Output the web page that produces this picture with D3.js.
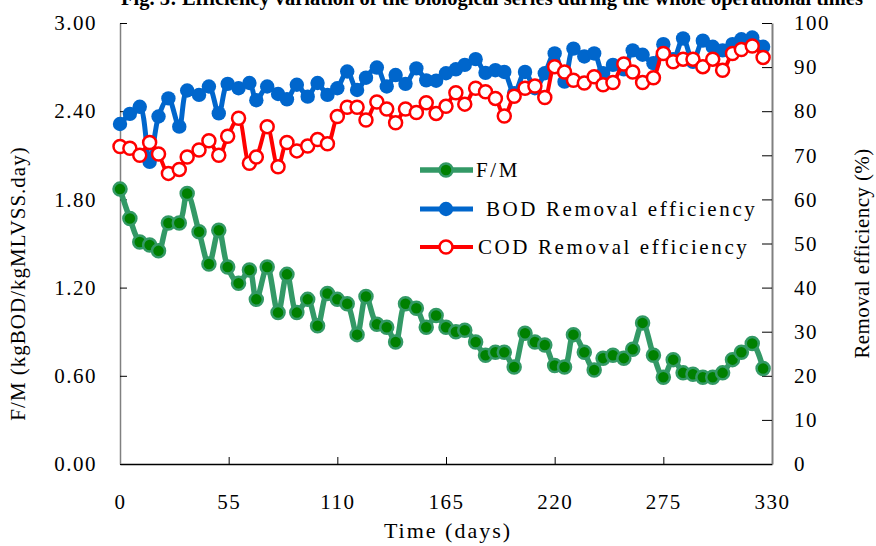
<!DOCTYPE html>
<html>
<head>
<meta charset="utf-8">
<script src="https://cdn.jsdelivr.net/npm/d3@7"></script>
<style>
  body { margin: 0; background: #fff; }
  svg { display: block; font-family: "Liberation Serif", "Times New Roman", serif; }
  .axis text { font-family: "Liberation Serif", "Times New Roman", serif; font-size: 21px; fill: #000; letter-spacing: 1.5px; }
  .axis .tick line { stroke: #000; }
  .legend text { font-size: 21px; letter-spacing: 2.6px; }
  .title-text { font-size: 21px; fill: #000; }
</style>
</head>
<body>
<div id="chart"></div>
<script>
  "use strict";

  // sample days
  const days = [0, 5, 10, 15, 19.5, 24.5, 30, 34, 40, 45, 50, 54.5, 60, 65.5, 69, 74.5, 80, 84.5, 89.5, 95,
    100, 105, 110, 115, 120, 124.5, 130, 135, 139.5, 144.5, 150, 155, 160, 165, 170, 174.5, 180, 185, 190, 194.5,
    199.5, 205, 210, 215, 220, 225, 229.5, 235, 240, 244.5, 249.5, 255, 259.5, 264.5, 270, 275, 280, 285, 290, 295,
    300, 305, 310, 314.5, 320, 325.5];

  // F/M (kgBOD/kgMLVSS.day)
  const fm = [1.87, 1.67, 1.51, 1.49, 1.45, 1.64, 1.64, 1.84, 1.58, 1.36, 1.59, 1.34, 1.23, 1.32, 1.12, 1.34, 1.03, 1.29, 1.03, 1.12,
    0.94, 1.16, 1.12, 1.09, 0.88, 1.14, 0.95, 0.93, 0.83, 1.09, 1.06, 0.93, 1.01, 0.93, 0.90, 0.91, 0.83, 0.74, 0.76, 0.76,
    0.66, 0.89, 0.83, 0.81, 0.67, 0.66, 0.88, 0.76, 0.64, 0.72, 0.74, 0.72, 0.78, 0.96, 0.74, 0.59, 0.71, 0.62, 0.61, 0.59,
    0.59, 0.62, 0.71, 0.76, 0.82, 0.65];

  // BOD removal efficiency (%)
  const bod = [77.1, 79.4, 81.0, 68.5, 78.8, 82.9, 76.5, 84.7, 83.7, 85.6, 79.5, 86.2, 85.2, 86.4, 82.5, 85.6, 83.9, 82.7, 86.0, 83.3,
    86.4, 83.7, 85.2, 89.0, 84.8, 87.6, 89.9, 85.6, 88.2, 86.2, 89.7, 87.0, 86.9, 88.6, 89.5, 90.5, 91.8, 88.7, 89.3, 88.9,
    84.1, 88.9, 85.2, 88.6, 93.1, 86.7, 94.2, 92.4, 93.1, 88.6, 90.5, 89.5, 93.8, 92.8, 90.9, 95.2, 91.8, 96.5, 91.2, 96.0,
    94.6, 93.8, 95.2, 96.3, 96.7, 94.6];

  // COD removal efficiency (%)
  const cod = [72.0, 71.6, 70.0, 72.9, 70.3, 65.9, 66.8, 69.6, 71.2, 73.3, 70.0, 74.3, 78.4, 68.2, 69.6, 76.5, 67.4, 72.9, 71.0, 72.1,
    73.6, 72.6, 78.8, 80.9, 80.9, 78.0, 82.1, 80.5, 77.4, 80.5, 79.7, 81.9, 79.5, 81.1, 84.2, 81.6, 85.2, 84.4, 82.9, 78.9,
    83.4, 85.2, 85.7, 83.1, 90.1, 88.9, 87.0, 86.4, 87.8, 86.0, 86.5, 90.7, 88.9, 86.5, 87.6, 93.1, 91.2, 91.8, 91.8, 90.1,
    91.8, 89.3, 93.1, 94.0, 94.8, 92.2];

  const xTicks = [0, 55, 110, 165, 220, 275, 330];
  const leftTicks = [0, 0.6, 1.2, 1.8, 2.4, 3.0];
  const rightTicks = [0, 10, 20, 30, 40, 50, 60, 70, 80, 90, 100];
  const legendLabels = ["F/M", " BOD Removal efficiency", "COD Removal efficiency"];

  const width = 876, height = 546;
  const margin = { left: 120, right: 104, top: 23, bottom: 82 };
  const innerWidth = width - margin.left - margin.right;
  const innerHeight = height - margin.top - margin.bottom;

  const x = d3.scaleLinear().domain([0, 330]).range([0, innerWidth]);
  const yLeft = d3.scaleLinear().domain([0, 3]).range([innerHeight, 0]);
  const yRight = d3.scaleLinear().domain([0, 100]).range([innerHeight, 0]);

  const svg = d3.select("#chart").append("svg").attr("width", width).attr("height", height);

  // title, cut off by the top edge like in the source
  svg.append("text").classed("title-text", true)
    .attr("x", 492).attr("y", 5)
    .attr("text-anchor", "middle")
    .style("font-weight", "bold").style("font-size", "20.5px")
    .text("Fig. 5: Efficiency variation of the biological series during the whole operational times");

  const g = svg.append("g").attr("transform", `translate(${margin.left},${margin.top})`);

  // Axes, ticks pointing inward
  g.append("g").classed("axis", true)
    .attr("transform", `translate(0, ${innerHeight})`)
    .call(d3.axisBottom(x).tickValues(xTicks).tickSizeInner(-7).tickSizeOuter(0).tickPadding(30))
    .call((a) => a.select(".domain").attr("stroke", "#000").attr("stroke-width", 1.5))
    .call((a) => a.selectAll(".tick").filter((d) => d == 0 || d == 330).select("line").remove());

  g.append("g").classed("axis", true)
    .call(d3.axisLeft(yLeft).tickValues(leftTicks).tickFormat(d3.format(".2f"))
      .tickSizeInner(-7).tickSizeOuter(0).tickPadding(23))
    .call((a) => a.select(".domain").attr("stroke", "#808080").attr("stroke-width", 1.5));

  g.append("g").classed("axis", true)
    .attr("transform", `translate(${innerWidth}, 0)`)
    .call(d3.axisRight(yRight).tickValues(rightTicks).tickSizeInner(-10).tickSizeOuter(0).tickPadding(22))
    .call((a) => a.select(".domain").attr("stroke", "#808080").attr("stroke-width", 2));

  // axis titles
  g.append("text").classed("title-text", true)
    .attr("x", innerWidth / 2 + 2).attr("y", innerHeight + 74)
    .attr("text-anchor", "middle")
    .style("font-size", "22px").style("letter-spacing", "2px")
    .text("Time (days)");
  svg.append("text").classed("title-text", true)
    .attr("transform", `translate(25, ${margin.top + innerHeight / 2 + 40}) rotate(-90)`)
    .attr("text-anchor", "middle").style("letter-spacing", "1px")
    .text("F/M (kgBOD/kgMLVSS.day)");
  svg.append("text").classed("title-text", true)
    .attr("transform", `translate(869, ${margin.top + innerHeight / 2 + 10}) rotate(-90)`)
    .attr("text-anchor", "middle").style("letter-spacing", "0.4px")
    .text("Removal efficiency (%)");

  const series = [
    { name: "fm", values: fm, y: yLeft, line: "#339966", lw: 5.5, r: 6.5, fill: "#008000", stroke: "#339966", sw: 2.5 },
    { name: "bod", values: bod, y: yRight, line: "#0066cc", lw: 5, r: 7.2, fill: "#0066cc", stroke: "#0066cc", sw: 0 },
    { name: "cod", values: cod, y: yRight, line: "#ff0000", lw: 4, r: 6.5, fill: "#fff", stroke: "#ff0000", sw: 2.5 },
  ];

  series.forEach((s) => {
    let pts = days.map((d, i) => [x(d), s.y(s.values[i])]);
    let line = d3.line().curve(d3.curveCatmullRom.alpha(0.5));
    let sg = g.append("g").classed(s.name, true);
    sg.append("path").attr("d", line(pts))
      .attr("fill", "none").attr("stroke", s.line).attr("stroke-width", s.lw)
      .attr("stroke-linejoin", "round");
    sg.selectAll("circle").data(pts).enter().append("circle")
      .attr("cx", (d) => d[0]).attr("cy", (d) => d[1]).attr("r", s.r)
      .attr("fill", s.fill).attr("stroke", s.stroke).attr("stroke-width", s.sw);
  });

  // legend
  const legend = svg.append("g").classed("legend", true);
  const legendY = [170, 209, 247];
  const legendTextX = [476, 486, 478];
  series.forEach((s, i) => {
    let row = legend.append("g").attr("transform", `translate(0, ${legendY[i]})`);
    row.append("line").attr("x1", 420).attr("x2", 473).attr("y1", 0).attr("y2", 0)
      .attr("stroke", s.line).attr("stroke-width", s.lw);
    row.append("circle").attr("cx", 446).attr("cy", 0).attr("r", s.r)
      .attr("fill", s.fill).attr("stroke", s.stroke).attr("stroke-width", s.sw);
    row.append("text").attr("x", legendTextX[i]).attr("y", 0).attr("dy", "0.35em")
      .text(legendLabels[i]);
  });
</script>
</body>
</html>
